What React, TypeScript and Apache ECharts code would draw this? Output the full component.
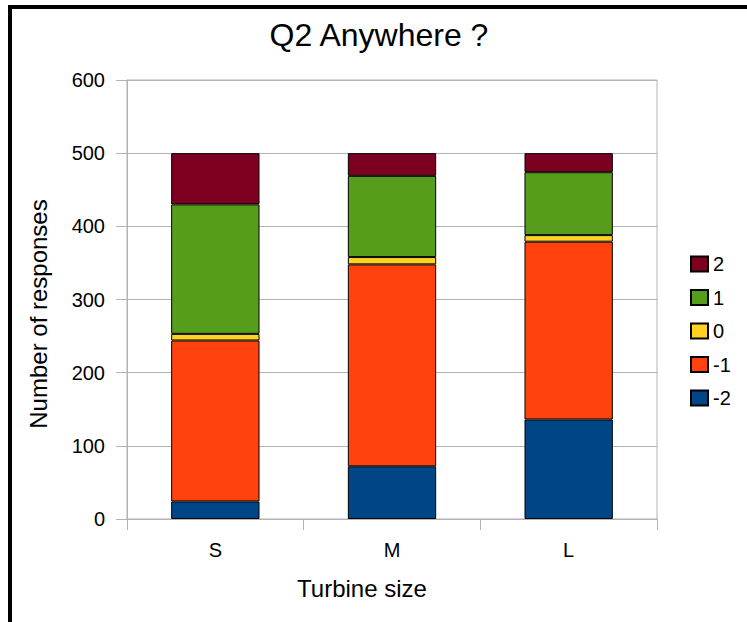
import React, { useEffect, useRef } from "react";
import * as echarts from "echarts";

const categories = ["S", "M", "L"];
const seriesNames = ["-2", "-1", "0", "1", "2"];
const valuesMinus2 = [24, 72, 136];
const valuesMinus1 = [220, 276, 243];
const values0 = [9, 10, 9];
const values1 = [177, 111, 86];
const values2 = [70, 31, 26];
const colors = ["#004586", "#ff420e", "#ffd320", "#579d1c", "#7e0021"];
const legendOrder = ["2", "1", "0", "-1", "-2"];
const titleText = "Q2 Anywhere ?";
const xName = "Turbine size";
const yName = "Number of responses";

export default function App() {
  const ref = useRef<HTMLDivElement>(null);
  useEffect(() => {
    if (!ref.current) return;
    const chart = echarts.init(ref.current, null, { renderer: "svg" });
    const data = [valuesMinus2, valuesMinus1, values0, values1, values2];
    const font = "'Liberation Sans', Arial, sans-serif";
    chart.setOption({
      animation: false,
      backgroundColor: "#ffffff",
      textStyle: { fontFamily: font },
      grid: {
        left: 127,
        right: 90,
        top: 80,
        bottom: 103,
        show: true,
        borderColor: "#b3b3b3",
        borderWidth: 1,
        containLabel: false,
      },
      legend: {
        data: legendOrder,
        orient: "vertical",
        left: 685,
        top: 249,
        itemWidth: 17,
        itemHeight: 15,
        itemGap: 13.5,
        icon: "rect",
        textStyle: { fontSize: 20, color: "#000", fontFamily: font },
      },
      xAxis: {
        type: "category",
        data: categories,
        boundaryGap: true,
        axisLine: { lineStyle: { color: "#b3b3b3" } },
        axisTick: { show: true, length: 11, lineStyle: { color: "#b3b3b3" } },
        axisLabel: { fontSize: 20, color: "#000", margin: 21, fontFamily: font },
      },
      yAxis: {
        type: "value",
        min: 0,
        max: 600,
        interval: 100,
        axisLine: { show: true, lineStyle: { color: "#b3b3b3" } },
        axisTick: { show: true, length: 11, lineStyle: { color: "#b3b3b3" } },
        axisLabel: { fontSize: 20, color: "#000", margin: 22, fontFamily: font },
        splitLine: { show: true, lineStyle: { color: "#b3b3b3" } },
      },
      series: seriesNames.map((name, i) => ({
        name,
        type: "bar",
        stack: "total",
        barWidth: "50%",
        data: data[i],
        itemStyle: { color: colors[i], borderColor: "#000", borderWidth: 1 },
      })),
      graphic: [
        { type: "rect", shape: { x: 8, y: 5, width: 739, height: 4 }, style: { fill: "#000" } },
        { type: "rect", shape: { x: 8, y: 5, width: 4, height: 617 }, style: { fill: "#000" } },
        {
          type: "text",
          x: 379,
          y: 35,
          style: {
            text: titleText,
            fontSize: 32,
            fontFamily: font,
            fill: "#000",
            align: "center",
            verticalAlign: "middle",
          },
        },
        {
          type: "text",
          x: 362,
          y: 588,
          style: {
            text: xName,
            fontSize: 24,
            fontFamily: font,
            fill: "#000",
            align: "center",
            verticalAlign: "middle",
          },
        },
        {
          type: "text",
          x: 38,
          y: 314,
          rotation: Math.PI / 2,
          style: {
            text: yName,
            fontSize: 24,
            fontFamily: font,
            fill: "#000",
            align: "center",
            verticalAlign: "middle",
          },
        },
      ],
    });
    return () => chart.dispose();
  }, []);
  return (
    <div
      ref={ref}
      style={{ position: "fixed", left: 0, top: 0, width: 747, height: 622 }}
    />
  );
}
